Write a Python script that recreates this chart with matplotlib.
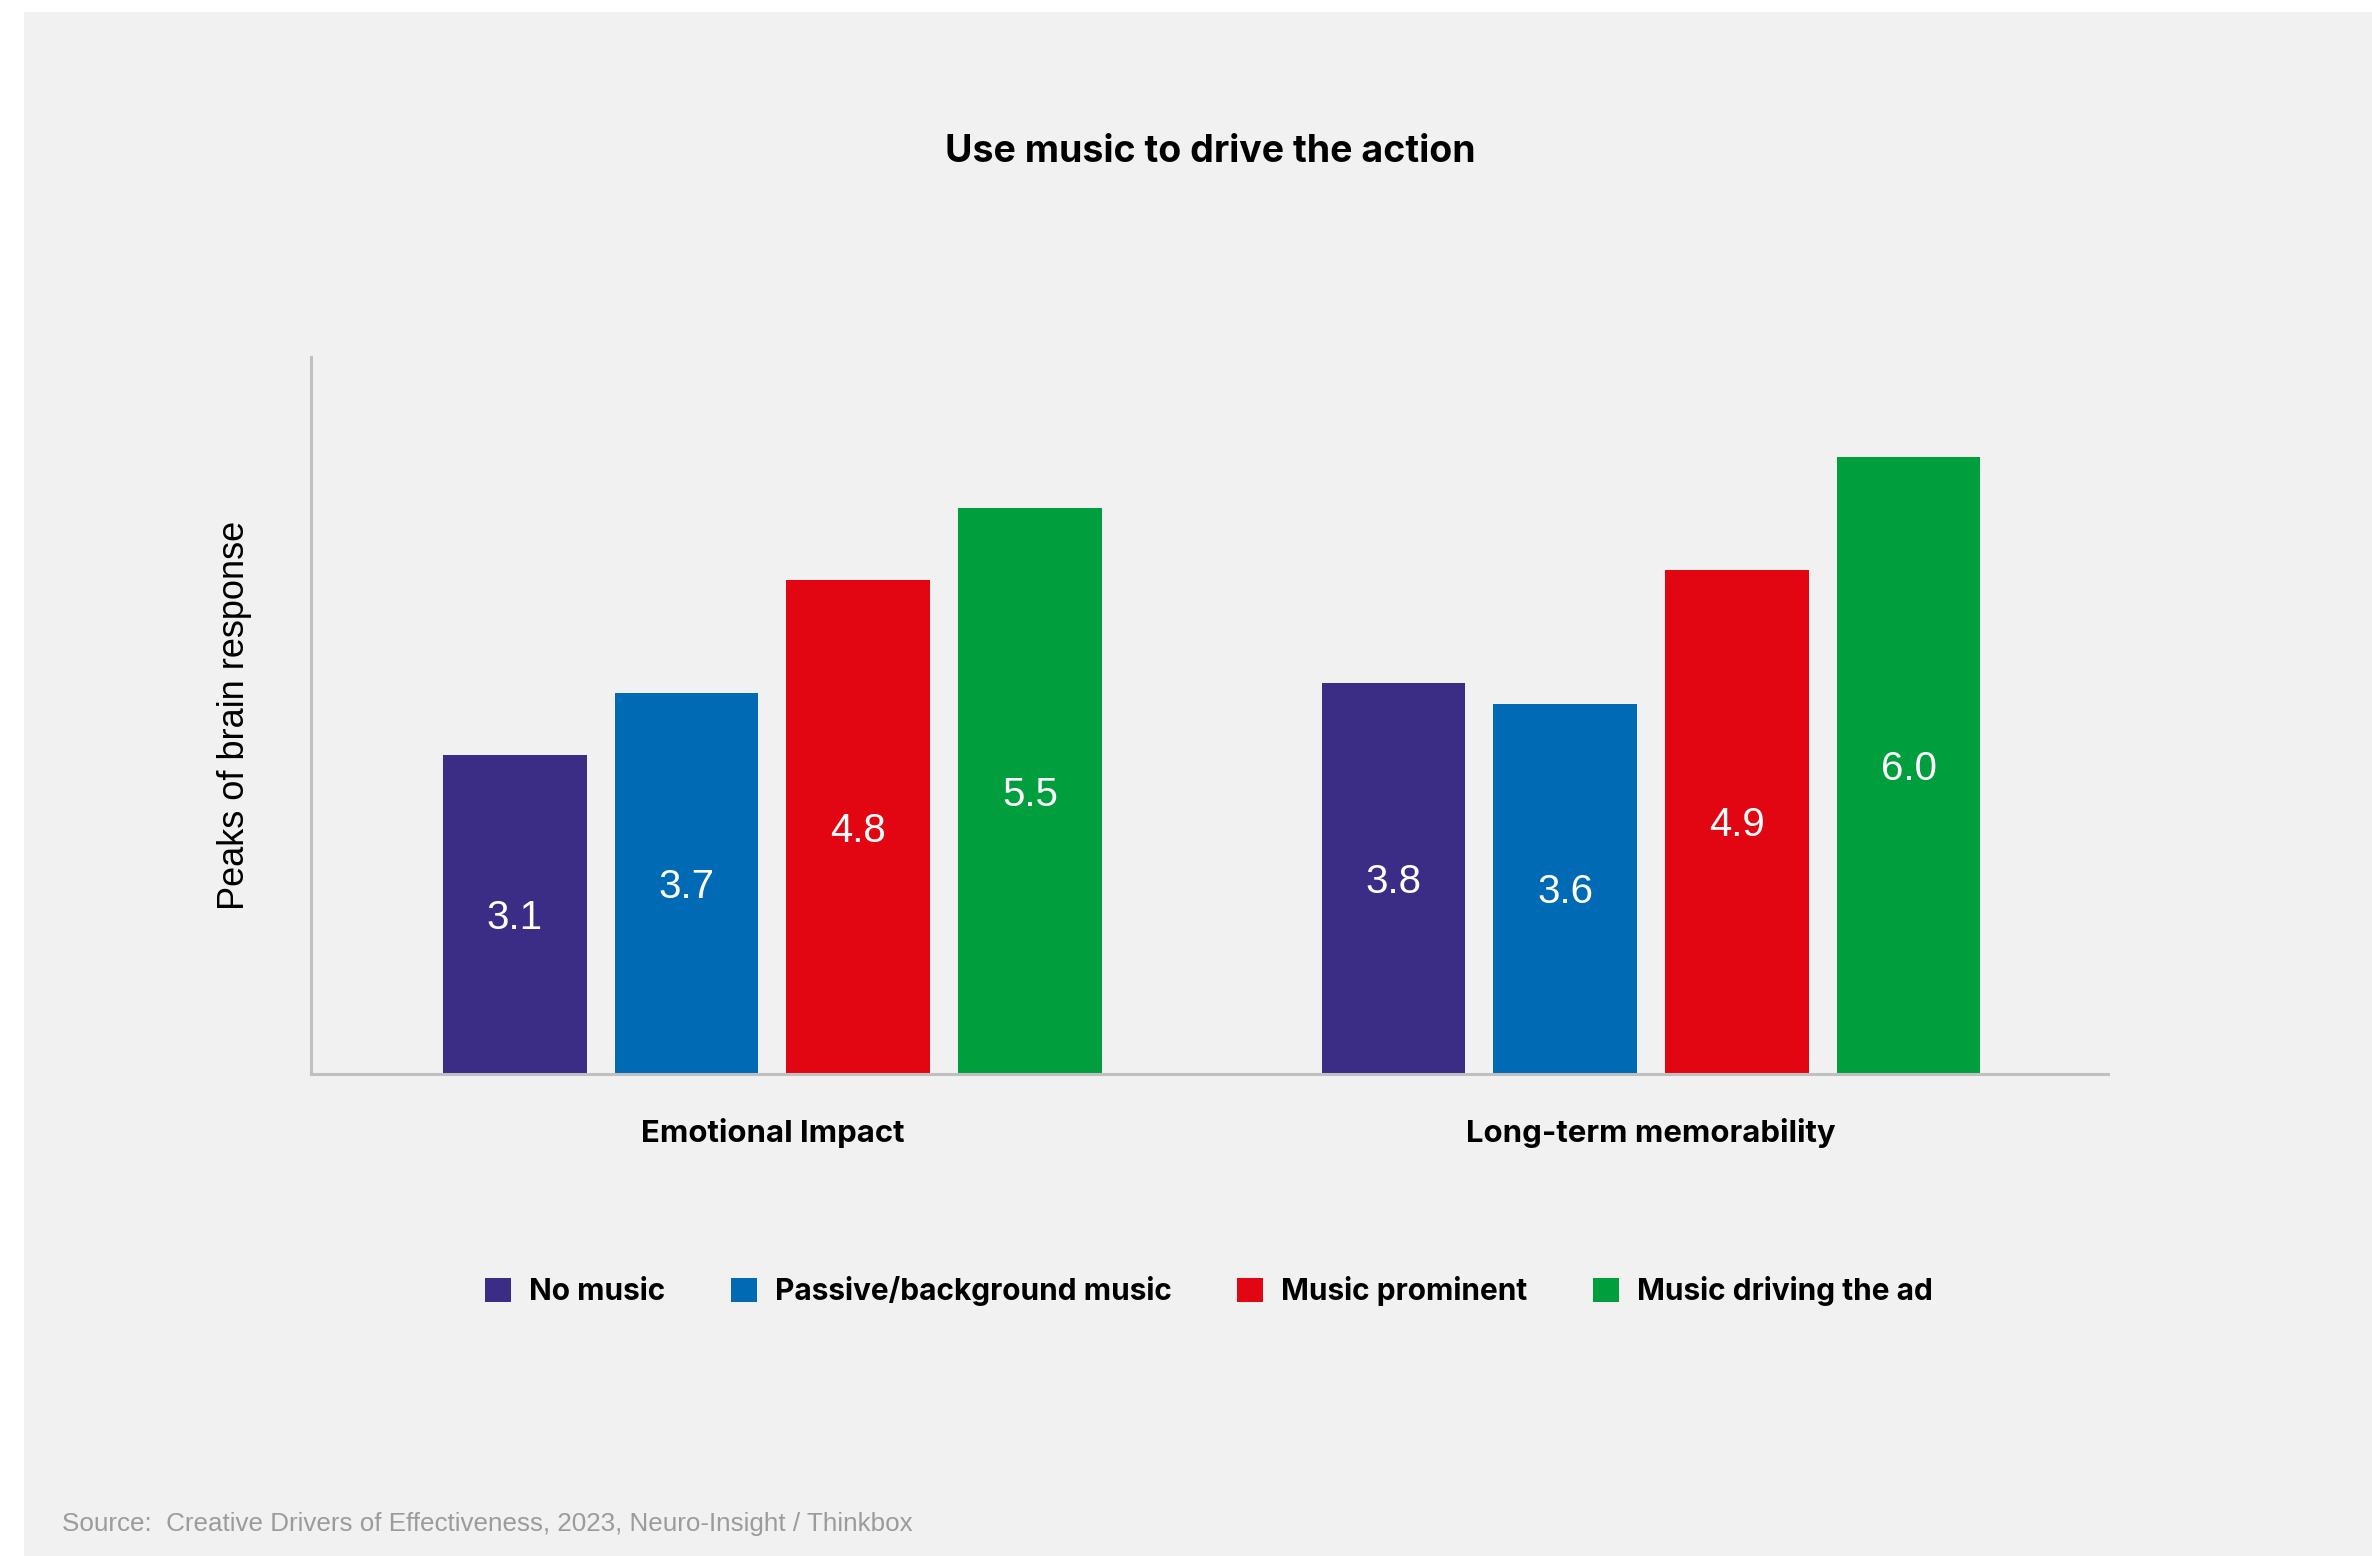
import matplotlib
matplotlib.use("Agg")
import matplotlib.pyplot as plt
from matplotlib.patches import Rectangle
import numpy as np

# data
groups = ["Emotional Impact", "Long-term memorability"]
series = ["No music", "Passive/background music", "Music prominent", "Music driving the ad"]
values = {
    "No music": [3.1, 3.8],
    "Passive/background music": [3.7, 3.6],
    "Music prominent": [4.8, 4.9],
    "Music driving the ad": [5.5, 6.0],
}
colors = ["#3b2c85", "#006ab4", "#e20613", "#009e3d"]

title = "Use music to drive the action"
ylabel = "Peaks of brain response"
source = "Source:  Creative Drivers of Effectiveness, 2023, Neuro-Insight / Thinkbox"

W, H = 2372, 1556
bg = "#f1f1f1"
bold_font = ["Inter", "DejaVu Sans"]
reg_font = ["Liberation Sans", "DejaVu Sans"]

fig = plt.figure(figsize=(W / 100, H / 100), dpi=100)
fig.patch.set_facecolor("white")
fig.patches.append(Rectangle((24 / W, 0), 1 - 24 / W, 1 - 12 / H,
                             transform=fig.transFigure, facecolor=bg,
                             edgecolor="none", zorder=-5))

ax = fig.add_axes([311 / W, 1 - 1074 / H, (2108 - 311) / W, (1074 - 357) / H])
ax.set_facecolor("none")
ax.set_zorder(2)

step = 0.1954
width = 0.1635
x = np.arange(len(groups))
bars = []
for i, name in enumerate(series):
    pos = x + (i - 1.5) * step
    b = ax.bar(pos, values[name], width, color=colors[i], label=name, zorder=1)
    bars.append(b)
    for xp, v in zip(pos, values[name]):
        ax.annotate(f"{v:.1f}", (xp, v / 2), xytext=(0, -0.36 * 29),
                    textcoords="offset points", ha="center", va="baseline",
                    color="white", fontsize=29, family=reg_font)

ax.set_xlim(-0.525, 1.52)
ax.set_ylim(0, 6.97)
ax.set_xticks([])
ax.set_yticks([])
for s in ["top", "right"]:
    ax.spines[s].set_visible(False)
for s in ["left", "bottom"]:
    ax.spines[s].set_color("#c0c0c0")
    ax.spines[s].set_linewidth(2.2)

for xi, g in zip(x, groups):
    ax.text(xi, -68 / 717, g, transform=ax.get_xaxis_transform(),
            ha="center", va="baseline", fontsize=22.4, fontweight="bold",
            family=bold_font, color="black")

fig.text(1210 / W, 1 - 162 / H, title, ha="center", va="baseline",
         fontsize=27, fontweight="bold", family=bold_font, color="black")

fig.text(235 / W, 1 - 715.5 / H, ylabel, rotation=90, ha="center", va="center",
         fontsize=26, family=reg_font, color="black")

fig.text(62 / W, 1 - 1531 / H, source, ha="left", va="baseline",
         fontsize=18.7, family=reg_font, color="#9b9b9b")

leg = fig.legend(handles=bars, labels=series, loc="center",
                 bbox_to_anchor=(1209 / W, 1 - 1291 / H), ncol=4, frameon=False,
                 prop={"family": bold_font, "weight": "bold", "size": 21.5},
                 handlelength=0.87, handleheight=0.87, handletextpad=0.6,
                 columnspacing=2.2, borderpad=0, borderaxespad=0)

fig.savefig("out.png", dpi=100, facecolor=fig.get_facecolor())
